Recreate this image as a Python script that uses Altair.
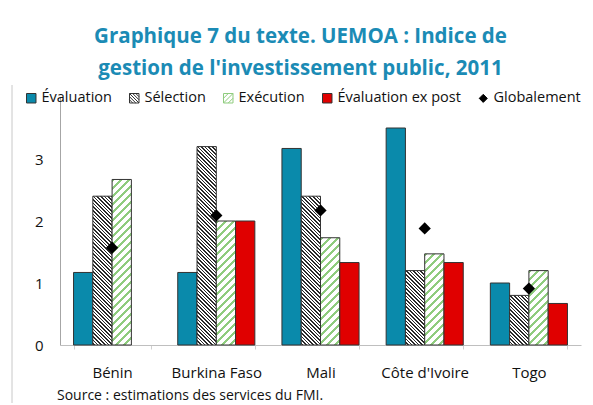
import math
import altair as alt

countries = ["Bénin", "Burkina Faso", "Mali", "Côte d'Ivoire", "Togo"]
series = ["Évaluation", "Sélection", "Exécution", "Évaluation ex post"]
evaluation = [1.17, 1.17, 3.17, 3.50, 1.00]
selection = [2.40, 3.20, 2.40, 1.20, 0.80]
execution = [2.67, 2.00, 1.73, 1.47, 1.20]
ex_post = [None, 2.00, 1.33, 1.33, 0.67]
globalement = [1.57, 2.09, 2.17, 1.88, 0.91]
overall_label = "Globalement"

FONT = "Open Sans"
TEAL = "#0a8aab"
RED = "#e00000"
GREEN = "#8fcc7e"
HATCH = "#2a2a2a"
TITLE_COLOR = "#1b8bb5"

W, H = 521, 248
YMAX = 4
PAD_IN, PAD_OUT = 0.26, 0.13


def stripes(w, h, period, frac, color, bg, backslash):
    """Diagonal 45deg stripes as a linear gradient in bounding-box units."""
    L = w + h
    k = L / (w * w + h * h)
    a, b = w * k, h * k
    stops = []
    n = int(math.ceil(L / period))
    for i in range(n):
        s = i * period / L
        m = min(1.0, (i + frac) * period / L)
        e = min(1.0, (i + 1) * period / L)
        stops += [{"offset": round(s, 5), "color": color},
                  {"offset": round(m, 5), "color": color},
                  {"offset": round(m, 5), "color": bg},
                  {"offset": round(e, 5), "color": bg}]
    if backslash:
        g = {"gradient": "linear", "x1": 1, "y1": 0, "x2": max(1 - a, 0.0001), "y2": b}
    else:
        g = {"gradient": "linear", "x1": 0, "y1": 0, "x2": a, "y2": b}
    g["stops"] = stops
    return g


step = W / (len(countries) - PAD_IN + 2 * PAD_OUT)
bar_w = step * (1 - PAD_IN) / len(series)
px_per_unit = H / YMAX


def fill_for(serie, value):
    h = max(value * px_per_unit, 1)
    if serie == "Sélection":
        return stripes(bar_w, h, 3.6, 0.45, HATCH, "#ffffff", True)
    if serie == "Exécution":
        return stripes(bar_w, h, 8.0, 0.4, GREEN, "#ffffff", False)
    if serie == "Évaluation":
        return TEAL
    return RED


rows = []
for s, vals in zip(series, [evaluation, selection, execution, ex_post]):
    for c, v in zip(countries, vals):
        if v is None:
            continue
        rows.append({"country": c, "serie": s, "value": v, "fill": fill_for(s, v)})

overall_rows = [{"country": c, "serie": overall_label, "value": v}
                for c, v in zip(countries, globalement)]

legend_domain = series + [overall_label]
legend_rows = [{"country": None, "serie": s, "value": None} for s in legend_domain]


# legend symbol paths (unit square [-1,1])
def fmt(v):
    return f"{v:.2f}".rstrip("0").rstrip(".")


SQUARE = "M-1,-1H1V1H-1Z"
back_lines = ""
for d in [-1.33, -0.67, 0.0, 0.67, 1.33]:
    x0, x1 = max(-1, -1 - d), min(1, 1 - d)
    back_lines += f"M{fmt(x0)},{fmt(x0 + d)}L{fmt(x1)},{fmt(x1 + d)}"
fwd_lines = ""
for d in [-1.0, 0.0, 1.0]:
    x0, x1 = max(-1, d - 1), min(1, d + 1)
    fwd_lines += f"M{fmt(x0)},{fmt(-x0 + d)}L{fmt(x1)},{fmt(-x1 + d)}"
SEL_PATH = SQUARE + back_lines
EXE_PATH = SQUARE + fwd_lines
DIAMOND = "M0,-0.85L0.85,0L0,0.85L-0.85,0Z"

x_scale = alt.Scale(domain=countries, paddingInner=PAD_IN, paddingOuter=PAD_OUT)
y_scale = alt.Scale(domain=[0, YMAX])

x_axis = alt.Axis(title=None, labelFont=FONT, labelFontSize=15, labelColor="#111",
                  domainColor="#bfbfbf", tickColor="#d0d0d0", tickSize=4,
                  tickBand="extent", labelPadding=16, labelAngle=0)
y_axis = alt.Axis(title=None, values=[0, 1, 2, 3], format="d", labelFont=FONT,
                  labelFontSize=15, labelColor="#111", domainColor="#a6a6a6",
                  ticks=False, labelPadding=17, grid=False)

bars = alt.Chart(alt.Data(values=rows)).mark_bar(stroke="#333333", strokeWidth=1).encode(
    x=alt.X("country:N", scale=x_scale, axis=x_axis, sort=countries),
    xOffset=alt.XOffset("serie:N", scale=alt.Scale(domain=series, paddingInner=0, paddingOuter=0)),
    y=alt.Y("value:Q", scale=y_scale, axis=y_axis),
    fill=alt.Fill("fill:N", scale=None),
)

leg = dict(title=None, orient="none", legendX=-36, legendY=-6, direction="horizontal",
           symbolSize=90, symbolStrokeWidth=1, symbolOpacity=1,
           labelFont=FONT, labelFontSize=14.5, labelColor="#111", labelOffset=3,
           columnPadding=15, labelLimit=200)

legend_layer = alt.Chart(alt.Data(values=legend_rows)).mark_point(filled=True, opacity=1).encode(
    x=alt.X("country:N", scale=x_scale, sort=countries),
    y=alt.Y("value:Q", scale=y_scale),
    color=alt.Color("serie:N", scale=alt.Scale(domain=legend_domain,
                    range=[TEAL, "#ffffff", "#ffffff", RED, "#000000"]),
                    legend=alt.Legend(**leg)),
    stroke=alt.Stroke("serie:N", scale=alt.Scale(domain=legend_domain,
                      range=["#333333", "#333333", GREEN, "#333333", "#000000"]),
                      legend=alt.Legend(**leg)),
    shape=alt.Shape("serie:N", scale=alt.Scale(domain=legend_domain,
                    range=[SQUARE, SEL_PATH, EXE_PATH, SQUARE, DIAMOND]),
                    legend=alt.Legend(**leg)),
)

points = alt.Chart(alt.Data(values=overall_rows)).mark_point(
    shape="diamond", filled=True, size=150, color="#000000", opacity=1
).encode(
    x=alt.X("country:N", scale=x_scale, sort=countries),
    y=alt.Y("value:Q", scale=y_scale),
)

source = alt.Chart(alt.Data(values=[{"t": "Source : estimations des services du FMI."}])).mark_text(
    font=FONT, fontSize=14, color="#111", align="left", baseline="middle"
).encode(text="t:N", x=alt.value(-3), y=alt.value(299))

frame = alt.Chart(alt.Data(values=[{"k": 1}])).mark_rule(color="#c8c8c8", strokeWidth=1).encode(
    x=alt.value(-48), y=alt.value(-12), y2=alt.value(310)
)

chart = alt.layer(frame, bars, points, legend_layer, source).properties(
    width=W, height=H,
    autosize="none",
    padding={"left": 52, "top": 89, "right": 4, "bottom": 58},
    title=alt.TitleParams(
        ["Graphique 7 du texte. UEMOA : Indice de",
         "gestion de l'investissement public, 2011"],
        font=FONT, fontSize=20.5, fontWeight="bold", color=TITLE_COLOR,
        anchor="middle", dx=-20, offset=5, lineHeight=32,
    ),
).configure_view(stroke=None)

chart.save("out.html", embed_options={"renderer": "svg", "actions": False})
